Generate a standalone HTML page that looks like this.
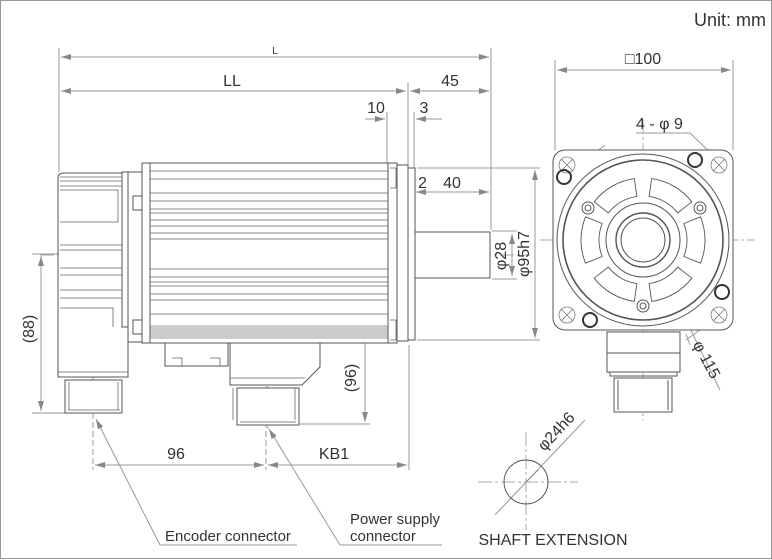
<!DOCTYPE html>
<html><head><meta charset="utf-8"><style>
html,body{margin:0;padding:0;background:#fff}
svg{display:block}
text{font-family:"Liberation Sans",sans-serif;fill:#333}
</style></head><body>
<svg width="772" height="560" viewBox="0 0 772 560" xmlns="http://www.w3.org/2000/svg">
<defs>
<marker id="a" viewBox="0 0 10 6" refX="10" refY="3" markerWidth="10" markerHeight="6" orient="auto-start-reverse" markerUnits="userSpaceOnUse"><path d="M0,0L10,3L0,6z" fill="#888"/></marker>
</defs>
<rect x="0.5" y="0.5" width="771" height="558" fill="none" stroke="#999"/>
<text x="766" y="26" font-size="18" text-anchor="end">Unit: mm</text>

<!-- dimension lines -->
<g stroke="#999" stroke-width="1" fill="none">
<line x1="59" y1="48" x2="59" y2="172"/>
<line x1="491" y1="48" x2="491" y2="230"/>
<line x1="408" y1="82" x2="408" y2="165"/>
<line x1="387" y1="112" x2="387" y2="163"/>
<line x1="414" y1="112" x2="414" y2="168"/>
<line x1="61" y1="57" x2="489" y2="57" marker-start="url(#a)" marker-end="url(#a)"/>
<line x1="61" y1="91" x2="406" y2="91" marker-start="url(#a)" marker-end="url(#a)"/>
<line x1="410" y1="91" x2="489" y2="91" marker-start="url(#a)" marker-end="url(#a)"/>
<line x1="365" y1="119" x2="385" y2="119" marker-end="url(#a)"/>
<line x1="442" y1="119" x2="416" y2="119" marker-end="url(#a)"/>
<line x1="416" y1="192" x2="489" y2="192" marker-start="url(#a)" marker-end="url(#a)"/>
<line x1="400" y1="192" x2="406" y2="192" marker-end="url(#a)"/>
<line x1="417" y1="168" x2="540" y2="168"/>
<line x1="417" y1="340" x2="540" y2="340"/>
<line x1="492" y1="231" x2="517" y2="231"/>
<line x1="492" y1="279" x2="517" y2="279"/>
<line x1="512" y1="234" x2="512" y2="276" marker-start="url(#a)" marker-end="url(#a)"/>
<line x1="535" y1="170" x2="535" y2="338" marker-start="url(#a)" marker-end="url(#a)"/>
<line x1="32" y1="254" x2="58" y2="254"/>
<line x1="32" y1="413" x2="66" y2="413"/>
<line x1="41" y1="256" x2="41" y2="411" marker-start="url(#a)" marker-end="url(#a)"/>
<line x1="300" y1="424" x2="370" y2="424"/>
<line x1="365" y1="258" x2="365" y2="422" marker-start="url(#a)" marker-end="url(#a)"/>
<line x1="93" y1="350" x2="93" y2="470" stroke-dasharray="6,3"/>
<line x1="266" y1="350" x2="266" y2="470" stroke-dasharray="6,3"/>
<line x1="409" y1="345" x2="409" y2="470"/>
<line x1="95" y1="465" x2="264" y2="465" marker-start="url(#a)" marker-end="url(#a)"/>
<line x1="268" y1="465" x2="407" y2="465" marker-start="url(#a)" marker-end="url(#a)"/>
<polyline points="160,545 297,545"/>
<line x1="160" y1="545" x2="96" y2="419" marker-end="url(#a)"/>
<polyline points="340,545 442,545"/>
<line x1="340" y1="545" x2="269" y2="429" marker-end="url(#a)"/>
<line x1="555" y1="60" x2="555" y2="150"/>
<line x1="733" y1="60" x2="733" y2="150"/>
<line x1="557" y1="70" x2="731" y2="70" marker-start="url(#a)" marker-end="url(#a)"/>
<line x1="636" y1="133" x2="690" y2="133"/>
<line x1="690" y1="133" x2="716" y2="158" marker-end="url(#a)"/>
<line x1="720" y1="390" x2="603" y2="150" marker-end="url(#a)"/>
<line x1="690" y1="345" x2="686" y2="334"/>
<line x1="575" y1="168" x2="605" y2="145"/>
<line x1="686" y1="340" x2="720" y2="315"/>
<line x1="495" y1="515" x2="585" y2="420"/>
</g>
<!-- centre lines -->
<g stroke="#aaa" stroke-width="1" stroke-dasharray="14,3,3,3" fill="none">
<line x1="40" y1="255" x2="530" y2="255"/>
<line x1="643" y1="120" x2="643" y2="420"/>
<line x1="540" y1="240" x2="755" y2="240"/>
<line x1="478" y1="482" x2="578" y2="482"/>
<line x1="526" y1="432" x2="526" y2="530"/>
<line x1="268" y1="340" x2="268" y2="430"/>
</g>

<!-- side view -->
<g stroke="#555" stroke-width="1" fill="#fff">
<path d="M58,178 Q58,173 64,173 L122,173 L122,327 L128,327 L128,377 L58,377 Z"/>
<rect x="122" y="172" width="6" height="155"/>
<rect x="128" y="172" width="14" height="170"/>
<rect x="133" y="196" width="9" height="14"/>
<rect x="133" y="320" width="9" height="14"/>
<rect x="142" y="163" width="8" height="180"/>
<rect x="150" y="163" width="238" height="180"/>
<rect x="388" y="163" width="9" height="180"/>
<rect x="397" y="165" width="11" height="176"/>
<rect x="408" y="168" width="7" height="172"/>
<rect x="415" y="232" width="75" height="46"/>
<rect x="165" y="343" width="63" height="23"/>
<path d="M230,343 L320,343 L320,367 L302,385 L230,385 Z"/>
<rect x="237" y="388" width="62" height="37"/>
<rect x="65" y="380" width="57" height="33"/>
</g>
<g stroke="#666" stroke-width="0.8" fill="none">
<path d="M60,186 H122 M60,190 H118 V222 H60 M60,245 H122 M60,250 H122 M60,268 H122 M60,275 H122 M60,290 H122 M60,298 H122 M60,308 H113 V327 M58,372 H128"/>
<path d="M60,177 H122 M60,181 H122"/>
<path d="M150,171 H388 M150,179 H388 M150,193 H388 M150,201 H388 M150,209 H388 M150,213 H388 M150,220 H388 M150,226 H388 M150,233 H388 M150,239 H388 M150,269 H388 M150,277 H388 M150,282 H388 M150,286 H388 M150,294 H388 M150,300 H388 M150,314 H388"/>
<path d="M150,326 H388 M150,328 H388 M150,330 H388 M150,332 H388 M150,334 H388 M150,336 H388 M150,338 H388" stroke="#777"/>
<path d="M390,168 H396 V188 H390 M390,320 H396 V340 H390"/>
<path d="M172,358 h10 v8 M210,358 h10 v8 M233,388 V420 M295,388 V420 M240,422 H296 M69,382 V410 M118,382 V410 M68,410 H120 M230,378 H305"/>
</g>

<!-- front view -->
<g stroke="#555" stroke-width="1" fill="none">
<rect x="553" y="150" width="180" height="180" rx="12" fill="#fff"/>
<circle cx="643" cy="240" r="86"/>
<circle cx="643" cy="240" r="80" stroke-width="1.6"/>
<circle cx="643" cy="240" r="37"/>
<circle cx="643" cy="240" r="27" stroke-width="1.4"/>
<circle cx="643" cy="240" r="22"/>
<g stroke-width="0.9" stroke-linejoin="round">
<path id="w" d="M700.5,216.8 A62,62 0 0 1 700.5,263.2 L683.8,256.5 A44,44 0 0 0 683.8,223.5 Z"/>
<use href="#w" transform="rotate(60 643 240)"/>
<use href="#w" transform="rotate(120 643 240)"/>
<use href="#w" transform="rotate(180 643 240)"/>
<use href="#w" transform="rotate(240 643 240)"/>
<use href="#w" transform="rotate(300 643 240)"/>
</g>
<g stroke="#777" stroke-width="0.8">
<circle cx="567" cy="165" r="8"/><path d="M561,159 l12,12 M573,159 l-12,12"/>
<circle cx="719" cy="165" r="8"/><path d="M713,159 l12,12 M725,159 l-12,12"/>
<circle cx="567" cy="315" r="8"/><path d="M561,309 l12,12 M573,309 l-12,12"/>
<circle cx="719" cy="315" r="8"/><path d="M713,309 l12,12 M725,309 l-12,12"/>
</g>
<g stroke="#333" stroke-width="2"><circle cx="695" cy="160" r="7"/><circle cx="564" cy="177" r="7"/><circle cx="722" cy="292" r="7"/><circle cx="590" cy="320" r="7"/></g>
<g><circle cx="588" cy="208" r="6"/><circle cx="588" cy="208" r="3"/><circle cx="700" cy="208" r="6"/><circle cx="700" cy="208" r="3"/><circle cx="643" cy="306" r="6"/><circle cx="643" cy="306" r="3"/></g>
<rect x="607" y="332" width="73" height="40" fill="#fff"/>
<path d="M607,353 H680 M610,372 V376 H677 V372"/>
<rect x="614" y="378" width="58" height="34" fill="#fff"/>
<path d="M618,380 V410 M668,380 V410"/>
<circle cx="526" cy="482" r="22"/>
</g>
<line x1="538" y1="470" x2="526" y2="482" stroke="#888"/>

<!-- labels -->
<g font-size="16">
<text x="275" y="54" font-size="10" text-anchor="middle">L</text>
<text x="232" y="86" text-anchor="middle">LL</text>
<text x="450" y="86" text-anchor="middle">45</text>
<text x="376" y="113" text-anchor="middle">10</text>
<text x="424" y="113" text-anchor="middle">3</text>
<text x="418" y="188">2</text>
<text x="452" y="188" text-anchor="middle">40</text>
<text transform="translate(506,256) rotate(-90)" text-anchor="middle">φ28</text>
<text transform="translate(529,254) rotate(-90)" text-anchor="middle">φ95h7</text>
<text transform="translate(34,329) rotate(-90)" text-anchor="middle">(88)</text>
<text transform="translate(356,378) rotate(-90)" text-anchor="middle">(96)</text>
<text x="176" y="459" text-anchor="middle">96</text>
<text x="334" y="459" text-anchor="middle">KB1</text>
<text x="165" y="541" font-size="15">Encoder connector</text>
<text x="350" y="524" font-size="15">Power supply</text>
<text x="350" y="541" font-size="15">connector</text>
<text x="643" y="64" text-anchor="middle">□100</text>
<text x="636" y="129">4 - φ 9</text>
<text transform="translate(702,362) rotate(62)" text-anchor="middle">φ 115</text>
<text transform="translate(560,435) rotate(-47)" text-anchor="middle">φ24h6</text>
<text x="553" y="545" text-anchor="middle">SHAFT EXTENSION</text>
</g>
</svg>
</body></html>
